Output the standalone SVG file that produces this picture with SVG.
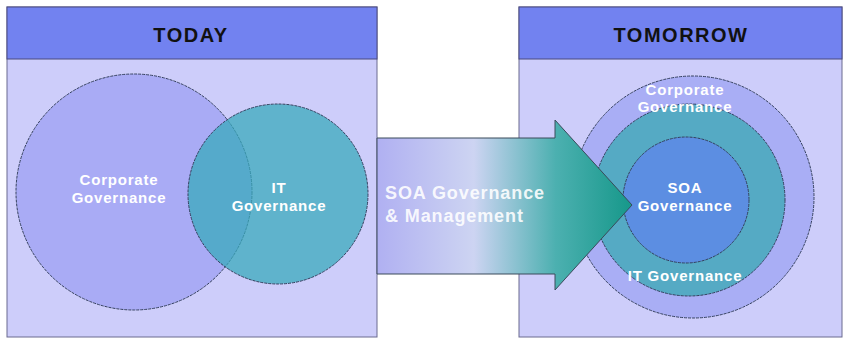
<svg xmlns="http://www.w3.org/2000/svg" width="844" height="339" viewBox="0 0 844 339">
<defs>
<linearGradient id="arrowGrad" x1="377" y1="0" x2="632" y2="0" gradientUnits="userSpaceOnUse">
<stop offset="0" stop-color="#b0b0f2"/>
<stop offset="0.38" stop-color="#cdd4f2"/>
<stop offset="0.7" stop-color="#4cb0b0"/>
<stop offset="1" stop-color="#16988a"/>
</linearGradient>
</defs>
<style>
.panel{fill:#cdcdfa;stroke:#6a6a90;stroke-width:1}
.header{fill:#7282f0;stroke:#4a4a80;stroke-width:1}
.title{font-family:"Liberation Sans",Arial,sans-serif;font-weight:bold;font-size:20px;letter-spacing:1.5px;fill:#111;text-anchor:middle}
.lbl{font-family:"Liberation Sans",Arial,sans-serif;font-weight:bold;font-size:15px;letter-spacing:0.8px;fill:#ffffff;text-anchor:middle}
.circ{stroke:#34405e;stroke-width:1;stroke-dasharray:3 1}
.albl{font-family:"Liberation Sans",Arial,sans-serif;font-weight:bold;font-size:18px;letter-spacing:0.9px;fill:#ffffff;fill-opacity:0.9}
</style>
<rect x="0" y="0" width="844" height="339" fill="#ffffff"/>
<g id="today">
<rect class="panel" x="7" y="7" width="370" height="330"/>
<rect class="header" x="7" y="7" width="370" height="52"/>
<text class="title" x="191" y="42">TODAY</text>
</g>
<g id="tomorrow">
<rect class="panel" x="519" y="7" width="323" height="330"/>
<rect class="header" x="519" y="7" width="323" height="52"/>
<text class="title" x="681" y="42">TOMORROW</text>
</g>
<g id="corporate-today">
<circle class="circ" cx="134" cy="192" r="118" fill="#a9abf5"/>
</g>
<g id="it-today">
<circle class="circ" cx="278" cy="194" r="90" fill="#3aaabc" fill-opacity="0.75"/>
</g>
<g id="today-labels">
<text class="lbl" x="119" y="185">Corporate</text>
<text class="lbl" x="119" y="203">Governance</text>
<text class="lbl" x="279" y="193">IT</text>
<text class="lbl" x="279" y="211">Governance</text>
</g>
<g id="corporate-tomorrow">
<circle class="circ" cx="693" cy="197" r="121" fill="#a9aef5"/>
</g>
<g id="it-tomorrow">
<circle class="circ" cx="689" cy="200" r="96" fill="#55aac4"/>
</g>
<g id="soa-tomorrow">
<circle class="circ" cx="686" cy="200" r="63" fill="#5c8ee2"/>
</g>
<g id="connectors">
<path d="M377 138 H555 V120 L632 205 L555 290 V274 H377 Z" fill="url(#arrowGrad)" stroke="#3a4a5a" stroke-width="1"/>
<text class="albl" x="385" y="199">SOA Governance</text>
<text class="albl" x="385" y="222">&amp; Management</text>
</g>
<g id="tomorrow-labels">
<text class="lbl" x="685" y="95">Corporate</text>
<text class="lbl" x="685" y="112">Governance</text>
<text class="lbl" x="685" y="193">SOA</text>
<text class="lbl" x="685" y="211">Governance</text>
<text class="lbl" x="685" y="281">IT Governance</text>
</g>
</svg>
